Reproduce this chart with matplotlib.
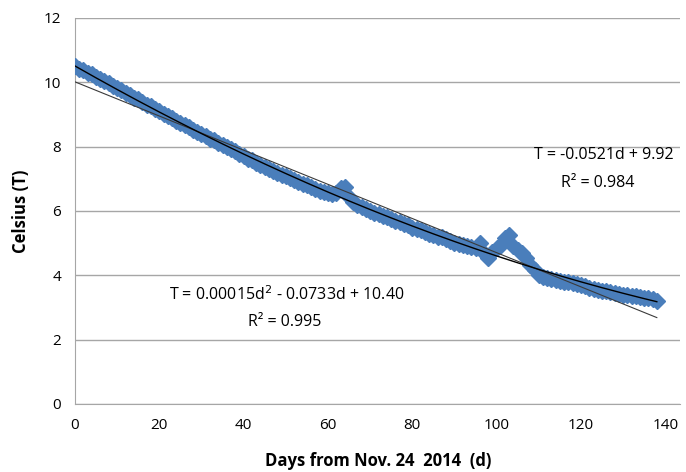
import matplotlib.pyplot as plt
import numpy as np

# daily temperature readings, day 0 .. 138
days = np.arange(0, 139)
temps = [10.50, 10.42, 10.38, 10.30, 10.25, 10.18, 10.10, 10.05, 9.98, 9.90,
         9.82, 9.75, 9.68, 9.62, 9.52, 9.48, 9.40, 9.30, 9.25, 9.18,
         9.10, 9.02, 8.95, 8.88, 8.80, 8.72, 8.68, 8.60, 8.52, 8.45,
         8.40, 8.32, 8.25, 8.20, 8.12, 8.05, 8.00, 7.92, 7.85, 7.78,
         7.70, 7.62, 7.58, 7.50, 7.42, 7.38, 7.30, 7.25, 7.18, 7.12,
         7.08, 7.02, 6.95, 6.90, 6.85, 6.80, 6.75, 6.68, 6.62, 6.58,
         6.55, 6.52, 6.55, 6.70, 6.75, 6.45, 6.28, 6.20, 6.12, 6.05,
         6.00, 5.95, 5.90, 5.85, 5.80, 5.75, 5.70, 5.65, 5.60, 5.55,
         5.48, 5.45, 5.40, 5.35, 5.30, 5.25, 5.20, 5.18, 5.12, 5.08,
         5.02, 4.98, 4.95, 4.90, 4.88, 4.85, 5.02, 4.70, 4.55, 4.72,
         4.85, 4.95, 5.15, 5.25, 4.90, 4.80, 4.70, 4.55, 4.32, 4.15,
         4.02, 3.95, 3.92, 3.88, 3.85, 3.82, 3.80, 3.78, 3.75, 3.72,
         3.70, 3.68, 3.62, 3.58, 3.55, 3.52, 3.50, 3.48, 3.45, 3.42,
         3.40, 3.38, 3.35, 3.35, 3.32, 3.30, 3.28, 3.25, 3.20]

lin_eq = 'T = -0.0521d + 9.92'
lin_r2 = 'R² = 0.984'
poly_eq = 'T = 0.00015d$^2$ - 0.0733d + 10.40'
poly_r2 = 'R² = 0.995'

plt.rcParams['font.family'] = ['Open Sans', 'DejaVu Sans']

fig = plt.figure(figsize=(6.86, 4.72), dpi=100)
ax = fig.add_axes([0.1093, 0.1441, 0.8826, 0.8178])

ax.plot(days, temps, linestyle='none', marker='D', markersize=8.5,
        color='#4A7EBB', zorder=3)

# trend lines fitted to the readings
lin = np.polyfit(days, temps, 1)
quad = np.polyfit(days, temps, 2)
ax.plot(days, np.polyval(lin, days), color='#3a3a3a', lw=0.8, zorder=4)
ax.plot(days, np.polyval(quad, days), color='black', lw=1.0, zorder=4)

tk = dict(transform=ax.transAxes, ha='center', va='center', fontsize=11.5)
ax.text(0.874, 0.645, lin_eq, **tk)
ax.text(0.863, 0.573, lin_r2, **tk)
ax.text(0.350, 0.282, poly_eq, **tk)
ax.text(0.347, 0.212, poly_r2, **tk)

ax.set_xlim(0, 143.6)
ax.set_ylim(0, 12)
ax.set_xticks(range(0, 141, 20))
ax.set_yticks(range(0, 13, 2))
ax.grid(axis='y', color='#a6a6a6', lw=1)
ax.set_axisbelow(True)
for s in ['top', 'right']:
    ax.spines[s].set_visible(False)
for s in ['left', 'bottom']:
    ax.spines[s].set_color('#a6a6a6')
ax.tick_params(length=0, labelsize=11, pad=10)
ax.set_xlabel('Days from Nov. 24  2014  (d)', fontsize=12, fontweight='bold', labelpad=14)
ax.set_ylabel('Celsius (T)', fontsize=12, fontweight='bold', labelpad=10)

fig.savefig('out.png', dpi=100)
